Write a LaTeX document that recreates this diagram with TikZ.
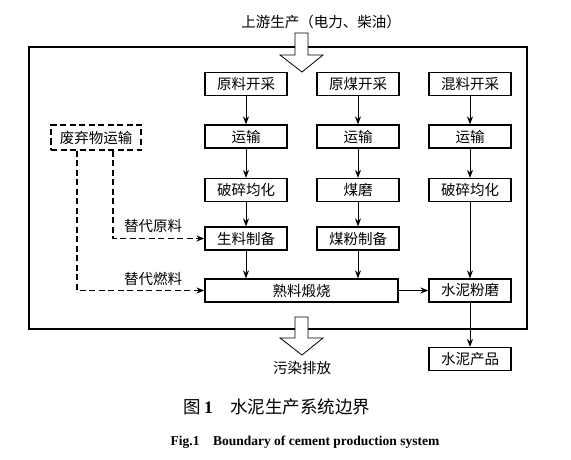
\documentclass[tikz,border=0pt]{standalone}
\usepackage{fontspec}
\setmainfont{Liberation Serif}
\newfontfamily\cjk{Noto Sans CJK SC}
\usetikzlibrary{arrows.meta}
\begin{document}
\begin{tikzpicture}[x=1pt,y=-1pt,
  box/.style={draw,line width=1.2pt,minimum width=82pt,minimum height=23pt,inner sep=0pt,font=\cjk\fontsize{14.5}{15}\selectfont},
  lbl/.style={font=\cjk\fontsize{14.5}{15}\selectfont,inner sep=1pt},
  arr/.style={line width=1pt,-{Stealth[length=8pt,width=6pt]}},
  dline/.style={line width=1.2pt,dash pattern=on 6pt off 3.5pt},
  hollow/.style={draw,line width=0.8pt,fill=white}]
\useasboundingbox (0,0) rectangle (571,460);
% boundary
\draw[line width=1.5pt] (29,47) rectangle (527,329);
% column 1
\node[box] (a1) at (246,84) {原料开采};
\node[box] (a2) at (246,136.5) {运输};
\node[box] (a3) at (246,190) {破碎均化};
\node[box] (a4) at (246,238.5) {生料制备};
% column 2
\node[box] (b1) at (358,84) {原煤开采};
\node[box] (b2) at (358,136.5) {运输};
\node[box] (b3) at (358,190) {煤磨};
\node[box] (b4) at (358,238.5) {煤粉制备};
% column 3
\node[box] (c1) at (470,84) {混料开采};
\node[box] (c2) at (470,136.5) {运输};
\node[box] (c3) at (470,190) {破碎均化};
\node[box] (c5) at (470,290.5) {水泥粉磨};
\node[box] (c6) at (470,359) {水泥产品};
% kiln
\node[box,minimum width=193pt] (k) at (301.5,290.5) {熟料煅烧};
% waste
\node[box,dline,minimum width=90pt,minimum height=25pt] (w) at (96,137.5) {废弃物运输};
% arrows
\draw[arr] (a1) -- (a2);
\draw[arr] (a2) -- (a3);
\draw[arr] (a3) -- (a4);
\draw[arr] (a4) -- (a4 |- k.north);
\draw[arr] (b1) -- (b2);
\draw[arr] (b2) -- (b3);
\draw[arr] (b3) -- (b4);
\draw[arr] (b4) -- (b4 |- k.north);
\draw[arr] (c1) -- (c2);
\draw[arr] (c2) -- (c3);
\draw[arr] (c3) -- (c5);
\draw[arr] (c5) -- (c6);
\draw[arr] (k) -- (c5);
% dashed feeds
\draw[dline,-{Stealth[length=8pt,width=6pt]}] ([xshift=17pt]w.south) |- (a4.west);
\draw[dline,-{Stealth[length=8pt,width=6pt]}] ([xshift=-19pt]w.south) |- (k.west);
\node[lbl] (l1) at (153,226) {替代原料};
\node[lbl] (l2) at (153,279) {替代燃料};
% hollow arrows
\draw[hollow] (295,33) -- (308,33) -- (308,55) -- (323,55) -- (302,72) -- (280,55) -- (295,55) -- cycle;
\draw[hollow] (295,317) -- (308,317) -- (308,338) -- (323,338) -- (302,355) -- (280,338) -- (295,338) -- cycle;
\node[lbl] (up) at (321,22) {上游生产（电力、柴油）};
\node[lbl] (down) at (302,368) {污染排放};
% captions
\node[inner sep=0pt,font=\cjk\fontsize{17.5}{18}\selectfont] (cap1) at (277,407) {图\,{\rmfamily\bfseries 1}\quad 水泥生产系统边界};
\node[inner sep=0pt,font=\rmfamily\bfseries\fontsize{13.5}{14}\selectfont] (cap2) at (305,442) {Fig.1\quad Boundary of cement production system};
\end{tikzpicture}
\end{document}
